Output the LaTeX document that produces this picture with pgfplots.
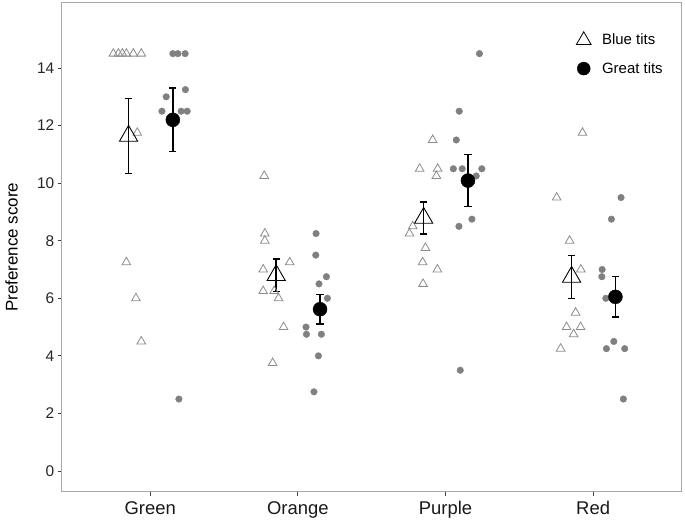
\documentclass[border=0pt]{standalone}
\usepackage{pgfplots}
\pgfplotsset{compat=1.18}
\usepackage{fontspec}
\setmainfont{Liberation Sans}
\definecolor{pt}{HTML}{808080}
\definecolor{tri}{HTML}{8C8C8C}
\definecolor{fr}{HTML}{A8A8A8}
\begin{document}
\begin{tikzpicture}
\begin{axis}[
  width=620bp, height=489bp, scale only axis,
  xmin=0.4, xmax=4.6, ymin=-0.72, ymax=16.27,
  xtick={1,2,3,4}, xticklabels={Green,Orange,Purple,Red},
  ytick={0,2,...,14},
  axis line style={fr, line width=0.9bp},
  tick align=outside, major tick length=4bp,
  xtick pos=bottom, ytick pos=left,
  tick style={black!75, line width=0.8bp},
  /pgf/number format/assume math mode=true,
  yticklabel style={font=\fontsize{15.5}{18}\selectfont, text=black!85},
  xticklabel style={font=\fontsize{18.5}{22}\selectfont, text=black!90, yshift=-2bp},
  ylabel={Preference score},
  ylabel style={font=\fontsize{17}{20}\selectfont, at={(axis description cs:-0.081,0.5)}, anchor=center},
  legend style={at={(axis description cs:0.825,0.945)}, anchor=north west, draw=none, fill=none,
    font=\fontsize{15}{18}\selectfont, row sep=12bp},
  legend cell align=left,
]
% legend images
\addlegendimage{only marks, mark=triangle, mark size=8.5bp, mark options={draw=black, fill=none, line width=0.8bp}}
\addlegendentry{\hspace{9bp}Blue tits}
\addlegendimage{only marks, mark=*, mark size=6.5bp, mark options={draw=black, fill=black}}
\addlegendentry{\hspace{9bp}Great tits}

% Blue tits raw data (open grey triangles)
\addplot[only marks, mark=triangle, mark size=5bp, mark options={draw=tri, fill=none, line width=0.8bp}, forget plot] coordinates {
 (0.750,14.5) (0.784,14.5) (0.811,14.5) (0.838,14.5) (0.885,14.5) (0.939,14.5)
 (0.912,11.75) (0.838,7.25) (0.903,6.0) (0.939,4.5)
 (1.772,10.25) (1.776,8.25) (1.776,8.0) (1.945,7.25) (1.765,7.0)
 (1.765,6.25) (1.839,6.25) (1.869,6.0) (1.903,5.0) (1.829,3.75)
 (2.913,11.5) (2.825,10.5) (2.947,10.5) (2.938,10.25) (2.778,8.5)
 (2.756,8.25) (2.864,7.75) (2.845,7.25) (2.945,7.0) (2.848,6.5)
 (3.928,11.75) (3.753,9.5) (3.841,8.0) (3.917,7.0) (3.881,5.5)
 (3.820,5.0) (3.915,5.0) (3.868,4.75) (3.780,4.25)
};
% Great tits raw data (filled grey circles)
\addplot[only marks, mark=*, mark size=3.3bp, mark options={draw=pt, fill=pt}, forget plot] coordinates {
 (1.153,14.5) (1.187,14.5) (1.236,14.5) (1.238,13.25) (1.108,13.0)
 (1.079,12.5) (1.209,12.5) (1.250,12.5) (1.194,2.5)
 (2.123,8.25) (2.121,7.5) (2.193,6.75) (2.143,6.5) (2.200,6.0)
 (2.055,5.0) (2.058,4.75) (2.159,4.75) (2.139,4.0) (2.109,2.75)
 (3.230,14.5) (3.093,12.5) (3.073,11.5) (3.053,10.5) (3.113,10.5)
 (3.246,10.5) (3.208,10.25) (3.179,8.75) (3.091,8.5) (3.100,3.5)
 (4.189,9.5) (4.124,8.75) (4.061,7.0) (4.059,6.75) (4.086,6.0)
 (4.140,4.5) (4.090,4.25) (4.214,4.25) (4.205,2.5)
};
% error bars (mean +- SE)
\addplot[draw=none, mark=none, forget plot,
  error bars/.cd, y dir=both, y explicit,
  error bar style={draw=black, line width=1.4bp},
  error mark options={draw=black, rotate=90, mark size=3.6bp, line width=1.4bp}] coordinates {
 (0.853,11.64) +- (0,1.30)
 (1.853,6.80) +- (0,0.57)
 (2.852,8.79) +- (0,0.55)
 (3.854,6.74) +- (0,0.75)
 (1.153,12.20) +- (0,1.11)
 (2.150,5.62) +- (0,0.52)
 (3.152,10.09) +- (0,0.91)
 (4.151,6.05) +- (0,0.70)
};
% means
\addplot[only marks, mark=triangle, mark size=10.5bp, mark options={draw=black, fill=none, line width=0.9bp}, forget plot] coordinates {
 (0.853,11.64) (1.853,6.80) (2.852,8.79) (3.854,6.74)
};
\addplot[only marks, mark=*, mark size=7bp, mark options={draw=black, fill=black}, forget plot] coordinates {
 (1.153,12.20) (2.150,5.62) (3.152,10.09) (4.151,6.05)
};
\end{axis}
\pgfresetboundingbox
\path ([shift={(-61.7bp,-31.3bp)}]current axis.south west) rectangle ([shift={(3.3bp,2.7bp)}]current axis.north east);
\end{tikzpicture}
\end{document}
